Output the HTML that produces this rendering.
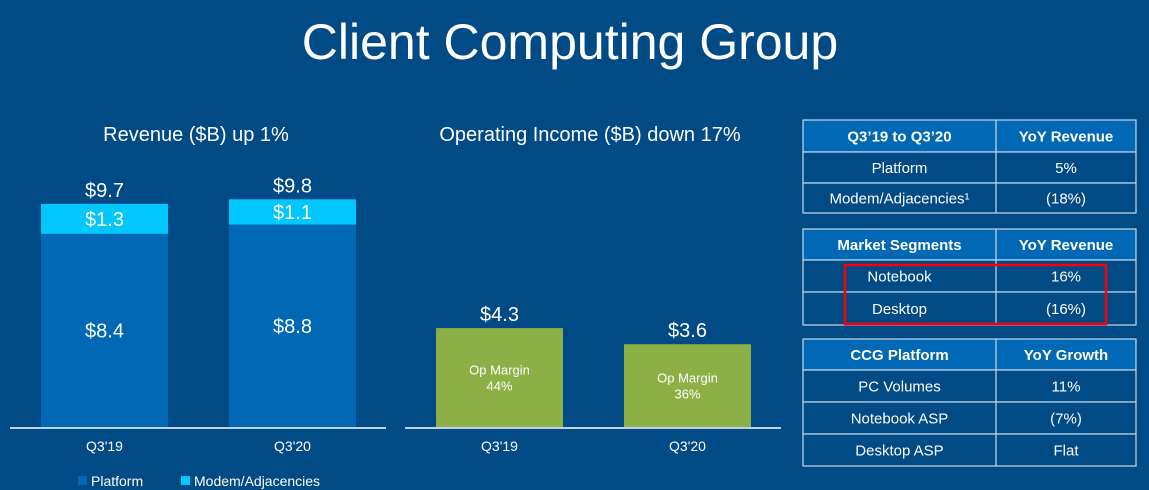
<!DOCTYPE html>
<html><head><meta charset="utf-8"><style>
html,body{margin:0;padding:0;background:#004a86;}
svg{display:block;font-family:"Liberation Sans",sans-serif;}
</style></head><body>
<svg id="s" width="1149" height="490" viewBox="0 0 1149 490">
<rect width="1149" height="490" fill="#004a86"/>
<text x="570" y="59" text-anchor="middle" fill="#fff" font-size="50" font-weight="300">Client Computing Group</text>
<text x="196" y="141" text-anchor="middle" fill="#fff" font-size="20">Revenue ($B) up 1%</text>
<text x="590" y="141" text-anchor="middle" fill="#fff" font-size="20">Operating Income ($B) down 17%</text>
<g id="rev"></g>
<g id="op"></g>
<g id="tables"></g>
<rect x="78" y="476" width="9" height="9" fill="#0068b5"/>
<text x="91" y="486" fill="#fff" font-size="14">Platform</text>
<rect x="181" y="476" width="9" height="9" fill="#00c7fd"/>
<text x="194" y="486" fill="#fff" font-size="14">Modem/Adjacencies</text>
<rect x="845" y="265" width="261" height="59" fill="none" stroke="#ff0000" stroke-width="2.5"/>
</svg>
<script>
const categories=["Q3'19","Q3'20"];
const platform=[8.4,8.8];
const modem=[1.3,1.1];
const totals=[9.7,9.8];
const opIncome=[4.3,3.6];
const opMargin=["44%","36%"];
const NS="http://www.w3.org/2000/svg";
const base=427, pxPer=23;
function y(v){return base-v*pxPer;}
function mk(p,tag,attrs,txt){const e=document.createElementNS(NS,tag);for(const k in attrs)e.setAttribute(k,attrs[k]);if(txt!==undefined)e.textContent=txt;p.appendChild(e);return e;}
const rev=document.getElementById('rev');
const revX=[41,229], opX=[436,624], bw=127;
categories.forEach((c,i)=>{
  const x=revX[i];
  let r=mk(rev,'rect',{x:x,y:y(platform[i]),width:bw,height:platform[i]*pxPer,fill:'#0068b5'});
  
  
  r=mk(rev,'rect',{x:x,y:y(platform[i]+modem[i]),width:bw,height:modem[i]*pxPer,fill:'#00c7fd'});
  
  
  let t=mk(rev,'text',{x:x+bw/2,y:(y(platform[i])+base)/2+7,'text-anchor':'middle',fill:'#fff','font-size':20},'$'+platform[i].toFixed(1));
  
  
  t=mk(rev,'text',{x:x+bw/2,y:(y(platform[i])+y(platform[i]+modem[i]))/2+7,'text-anchor':'middle',fill:'#fff','font-size':20},'$'+modem[i].toFixed(1));
  
  
  t=mk(rev,'text',{x:x+bw/2,y:y(platform[i]+modem[i])-7,'text-anchor':'middle',fill:'#fff','font-size':20},'$'+totals[i].toFixed(1));
  
  
  t=mk(rev,'text',{x:x+bw/2,y:451,'text-anchor':'middle',fill:'#fff','font-size':14},c);
  
  
});
let ax=mk(rev,'line',{x1:10,x2:386,y1:base+1,y2:base+1,stroke:'#fff','stroke-width':1.5});


const op=document.getElementById('op');
categories.forEach((c,i)=>{
  const x=opX[i];
  let r=mk(op,'rect',{x:x,y:y(opIncome[i]),width:bw,height:opIncome[i]*pxPer,fill:'#8db046'});
  
  
  const mid=(y(opIncome[i])+base)/2;
  let t=mk(op,'text',{x:x+bw/2,y:mid-3,'text-anchor':'middle',fill:'#fff','font-size':13},'Op Margin');
  
  
  t=mk(op,'text',{x:x+bw/2,y:mid+13,'text-anchor':'middle',fill:'#fff','font-size':13},opMargin[i]);
  
  
  t=mk(op,'text',{x:x+bw/2,y:y(opIncome[i])-7,'text-anchor':'middle',fill:'#fff','font-size':20},'$'+opIncome[i].toFixed(1));
  
  
  t=mk(op,'text',{x:x+bw/2,y:451,'text-anchor':'middle',fill:'#fff','font-size':14},c);
  
  
});
ax=mk(op,'line',{x1:405,x2:781,y1:base+1,y2:base+1,stroke:'#fff','stroke-width':1.5});


const tables=[
 {top:120,rows:[["Q3\u201919 to Q3\u201920","YoY Revenue"],["Platform","5%"],["Modem/Adjacencies\u00b9","(18%)"]],h:[32,31,30]},
 {top:229,rows:[["Market Segments","YoY Revenue"],["Notebook","16%"],["Desktop","(16%)"]],h:[31,32,33]},
 {top:339,rows:[["CCG Platform","YoY Growth"],["PC Volumes","11%"],["Notebook ASP","(7%)"],["Desktop ASP","Flat"]],h:[31,32,32,32]}
];
const tg=document.getElementById('tables');
const x0=803,xm=996,x1=1136;
tables.forEach((tb,ti)=>{
  let yy=tb.top;
  tb.rows.forEach((row,ri)=>{
    const h=tb.h[ri];
    let r=mk(tg,'rect',{x:x0,y:yy,width:x1-x0,height:h,fill:ri==0?'#0068b5':'#004a86',stroke:'#c8d8ea','stroke-width':1.2});
    
    
    mk(tg,'line',{x1:xm,x2:xm,y1:yy,y2:yy+h,stroke:'#c8d8ea','stroke-width':1.2});
    let t=mk(tg,'text',{x:(x0+xm)/2,y:yy+h/2+5.5,'text-anchor':'middle',fill:'#fff','font-size':15,'font-weight':ri==0?'bold':'normal'},row[0]);
    
    
    t=mk(tg,'text',{x:(xm+x1)/2,y:yy+h/2+5.5,'text-anchor':'middle',fill:'#fff','font-size':15,'font-weight':ri==0?'bold':'normal'},row[1]);
    
    
    yy+=h;
  });
});
</script>
</body></html>
